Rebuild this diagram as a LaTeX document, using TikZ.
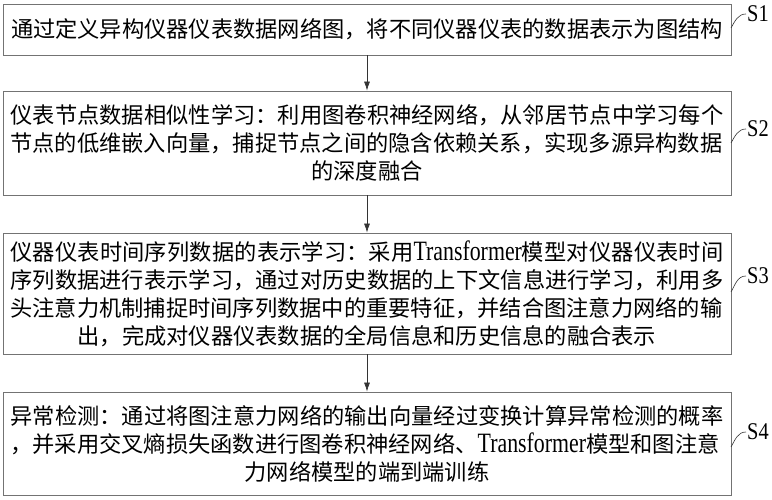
\documentclass[tikz,border=0pt]{standalone}
\usepackage{fontspec}
\setmainfont{Noto Sans CJK SC}
\newfontfamily\latinfont[FakeStretch=0.78]{Liberation Serif}
\newfontfamily\labelfont[FakeStretch=0.85]{Liberation Serif}
\usetikzlibrary{arrows.meta}
\XeTeXlinebreaklocale "zh"
\XeTeXlinebreakskip=0pt plus 3pt
\newcommand{\tfm}{{\latinfont\fontsize{28}{28}\selectfont Transformer}}
\tikzset{
  stepbox/.style={draw=black!55, line width=0.8pt, rectangle, minimum width=728pt,
    text width=713pt, inner xsep=7.5pt, inner ysep=3pt, align=justify,
    font=\fontsize{22.25}{28}\selectfont},
  steplabel/.style={anchor=west, inner sep=1pt, font=\labelfont\fontsize{24}{24}\selectfont},
  >={Latex[length=9pt,width=6pt]}
}
\begin{document}
\begin{tikzpicture}[x=1pt, y=1pt]
    \useasboundingbox (0,0) rectangle (772,500);
    \node[stepbox, minimum height=51pt] (b1) at (367,470.5)
      {\centerline{通过定义异构仪器仪表数据网络图，将不同仪器仪表的数据表示为图结构}};
    \node[stepbox, minimum height=104pt] (b2) at (367,357)
      {仪表节点数据相似性学习：利用图卷积神经网络，从邻居节点中学习每个\linebreak
       节点的低维嵌入向量，捕捉节点之间的隐含依赖关系，实现多源异构数据\par
       \centerline{的深度融合}};
    \node[stepbox, minimum height=121pt] (b3) at (367,206.5)
      {仪器仪表时间序列数据的表示学习：采用\tfm 模型对仪器仪表时间\linebreak
       序列数据进行表示学习，通过对历史数据的上下文信息进行学习，利用多\linebreak
       头注意力机制捕捉时间序列数据中的重要特征，并结合图注意力网络的输\par
       \centerline{出，完成对仪器仪表数据的全局信息和历史信息的融合表示}};
    \node[stepbox, minimum height=103pt] (b4) at (367,56.5)
      {异常检测：通过将图注意力网络的输出向量经过变换计算异常检测的概率\linebreak
       ，并采用交叉熵损失函数进行图卷积神经网络、\tfm 模型和图注意\par
       \centerline{力网络模型的端到端训练}};
    \foreach \a/\b in {b1/b2, b2/b3, b3/b4}
      \draw[->, black!80, line width=0.7pt] (\a.south) -- (\b.north);
    \coordinate (t1) at (731,472);
    \coordinate (t2) at (731,357);
    \coordinate (t3) at (731,208);
    \coordinate (t4) at (731,53);
    \node[steplabel] (s1) at (746,486) {S1};
    \node[steplabel] (s2) at (746,371) {S2};
    \node[steplabel] (s3) at (746,224) {S3};
    \node[steplabel] (s4) at (746,68) {S4};
    \foreach \i in {1,...,4}
      \draw[black!80, line width=0.6pt] (t\i) to[out=60, in=180] (s\i.west);
\end{tikzpicture}
\end{document}
